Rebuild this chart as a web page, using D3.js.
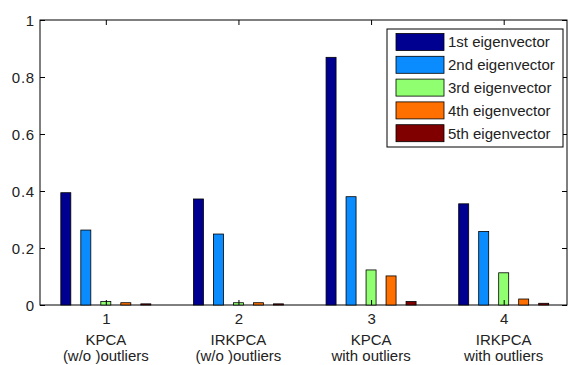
<!DOCTYPE html>
<html><head><meta charset="utf-8">
<script src="https://cdn.jsdelivr.net/npm/d3@7/dist/d3.min.js"></script>
<style>body{margin:0;background:#fff}svg{display:block}text{font-family:"Liberation Sans",Arial,sans-serif;fill:#222}</style>
</head><body><svg id="c" width="568" height="365"></svg>
<script>
const groups = [1, 2, 3, 4];
const groupLabels1 = ["KPCA", "IRKPCA", "KPCA", "IRKPCA"];
const groupLabels2 = ["(w/o )outliers", "(w/o )outliers", "with outliers", "with outliers"];
const seriesNames = ["1st eigenvector", "2nd eigenvector", "3rd eigenvector", "4th eigenvector", "5th eigenvector"];
const seriesColors = ["#000090", "#0a8cff", "#90ff70", "#ff7000", "#800000"];
const ev1 = [0.394, 0.372, 0.869, 0.355];
const ev2 = [0.263, 0.249, 0.380, 0.258];
const ev3 = [0.012, 0.008, 0.123, 0.113];
const ev4 = [0.008, 0.008, 0.102, 0.021];
const ev5 = [0.004, 0.004, 0.012, 0.006];
const series = [ev1, ev2, ev3, ev4, ev5];
const yTicks = [0, 0.2, 0.4, 0.6, 0.8, 1];

const svg = d3.select("#c");
const L = 40, R = 567, T = 20, B = 305;
const x = d3.scaleLinear().domain([0.5, 4.5]).range([L - 0.5, R + 3]);
const y = d3.scaleLinear().domain([0, 1]).range([B, T]);
const inner = d3.scaleBand().domain(d3.range(5)).range([-50, 50]).paddingInner(0.5).paddingOuter(0.25);
const FS = 15;

svg.append("rect").attr("x", L).attr("y", T).attr("width", R - L).attr("height", B - T)
  .attr("fill", "#fff").attr("stroke", "#000").attr("stroke-width", 1);

series.forEach((vals, si) => {
  svg.append("g").selectAll("rect").data(vals).join("rect")
    .attr("x", (d, i) => x(groups[i]) + inner(si))
    .attr("width", inner.bandwidth())
    .attr("y", d => y(d))
    .attr("height", d => y(0) - y(d))
    .attr("fill", seriesColors[si])
    .attr("stroke", "#000").attr("stroke-width", 0.8);
});

// axes
const yAxisL = d3.axisLeft(y).tickValues(yTicks).tickSize(-5).tickPadding(5).tickFormat(d3.format("~g"));
const gl = svg.append("g").attr("transform", `translate(${L},0)`).call(yAxisL);
const yAxisR = d3.axisRight(y).tickValues(yTicks).tickSize(-5).tickFormat("");
const gr = svg.append("g").attr("transform", `translate(${R},0)`).call(yAxisR);
const xAxisB = d3.axisBottom(x).tickValues(groups).tickSize(-5).tickPadding(8).tickFormat(d3.format("d"));
const gb = svg.append("g").attr("transform", `translate(0,${B})`).call(xAxisB);
const xAxisT = d3.axisTop(x).tickValues(groups).tickSize(-5).tickFormat("");
const gt = svg.append("g").attr("transform", `translate(0,${T})`).call(xAxisT);
[gl, gr, gb, gt].forEach(g => {
  g.select(".domain").remove();
  g.selectAll("line").attr("stroke", "#000");
  g.selectAll("text").attr("font-size", FS).attr("fill", "#222").style("font-family", '"Liberation Sans",Arial,sans-serif');
});
gl.selectAll("text").attr("dy", "0.36em").attr("letter-spacing", 0.8);
gb.selectAll("text").attr("dy", "0.71em");

svg.append("g").selectAll("text").data(groups).join("text")
  .attr("x", d => x(d)).attr("y", 345).attr("text-anchor", "middle").attr("font-size", FS)
  .text((d, i) => groupLabels1[i]);
svg.append("g").selectAll("text").data(groups).join("text")
  .attr("x", d => x(d)).attr("y", 361).attr("text-anchor", "middle").attr("font-size", FS)
  .text((d, i) => groupLabels2[i]);

// legend
const lg = svg.append("g");
lg.append("rect").attr("x", 387).attr("y", 29).attr("width", 176).attr("height", 118)
  .attr("fill", "#fff").attr("stroke", "#000").attr("stroke-width", 1);
seriesNames.forEach((n, i) => {
  const yy = 33.5 + i * 22.8;
  lg.append("rect").attr("x", 396).attr("y", yy).attr("width", 48).attr("height", 17)
    .attr("fill", seriesColors[i]).attr("stroke", "#000").attr("stroke-width", 0.8);
  lg.append("text").attr("x", 448).attr("y", yy + 8.5).attr("dy", "0.36em").attr("font-size", FS).text(n);
});
</script></body></html>
